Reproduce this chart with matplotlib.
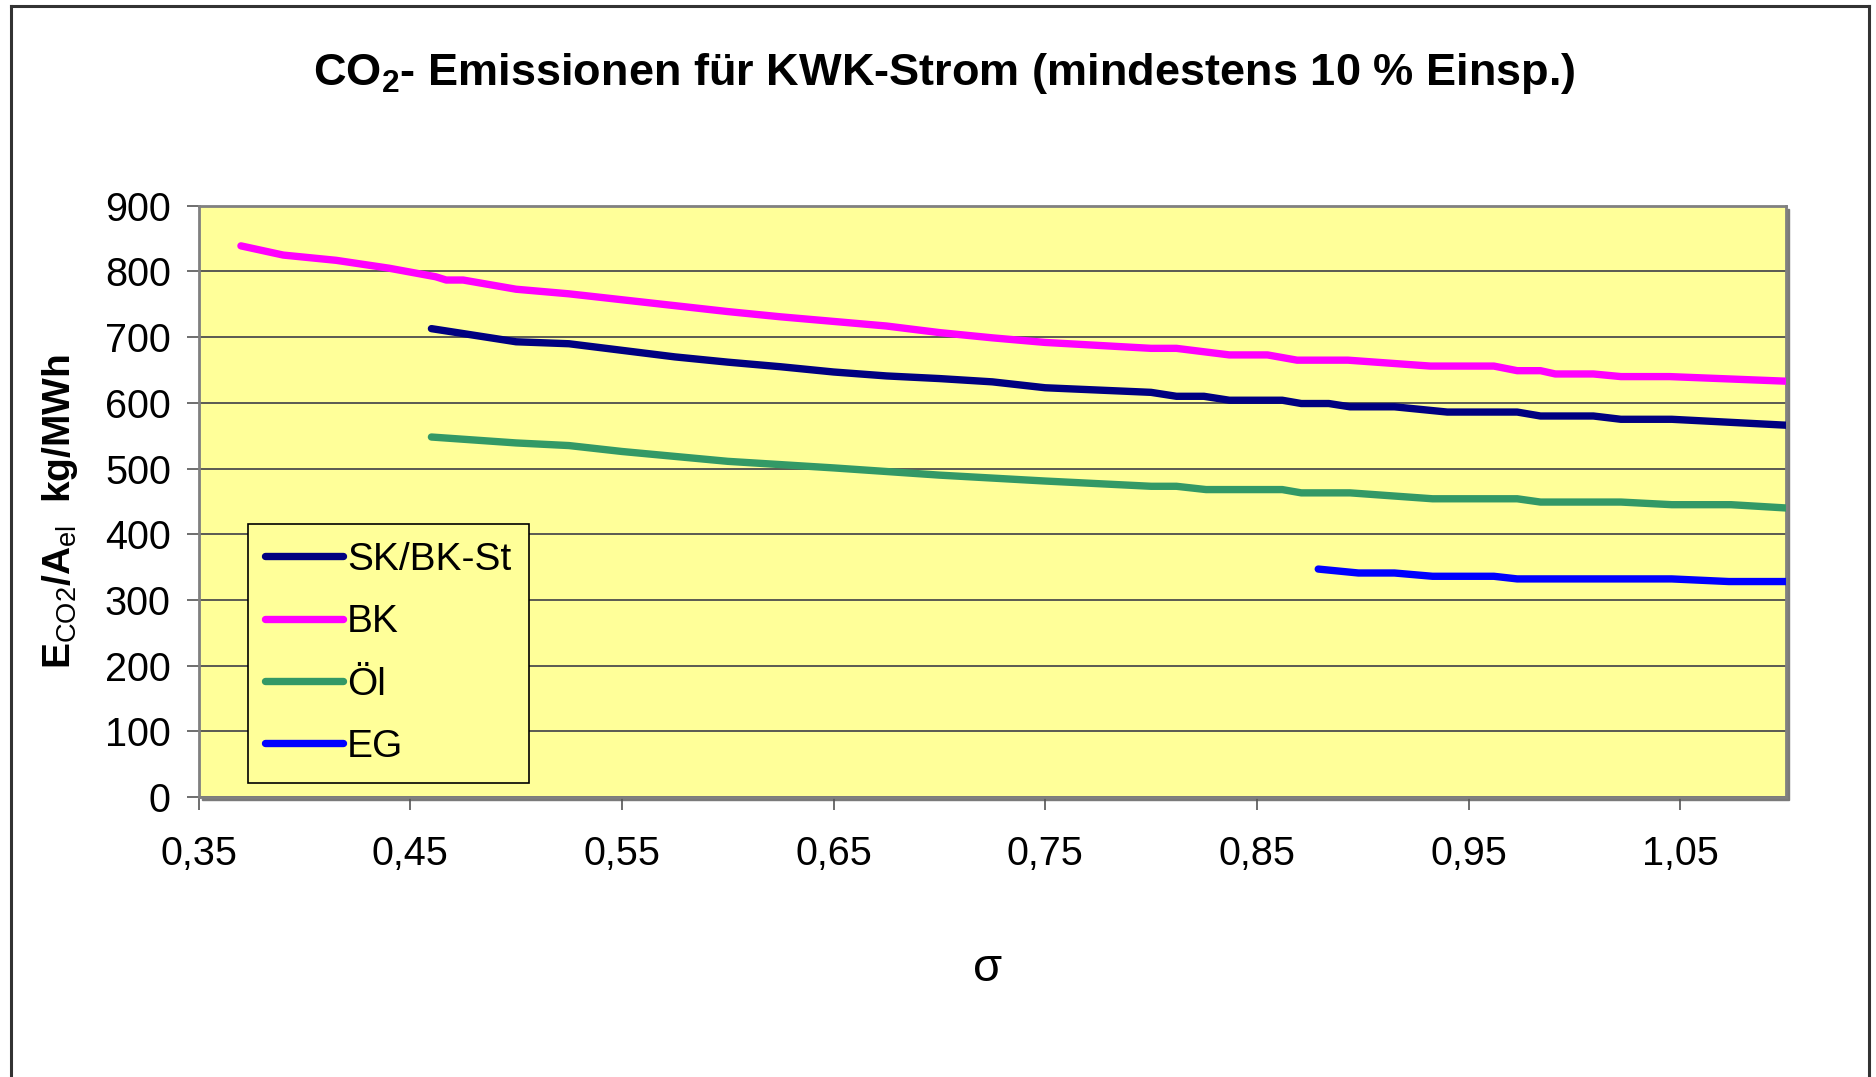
import matplotlib.pyplot as plt
import numpy as np
from matplotlib.patches import Rectangle
from matplotlib.lines import Line2D

plt.rcParams['font.family'] = ['Liberation Sans', 'DejaVu Sans']
plt.rcParams['mathtext.fontset'] = 'custom'
plt.rcParams['mathtext.rm'] = 'Liberation Sans'
plt.rcParams['mathtext.bf'] = 'Liberation Sans:bold'

# data
sk_x = [0.46, 0.50, 0.525, 0.55, 0.575, 0.60, 0.625, 0.65, 0.675, 0.70, 0.725, 0.75,
        0.80, 0.812, 0.825, 0.837, 0.862, 0.871, 0.884, 0.894, 0.915, 0.94, 0.973,
        0.984, 1.009, 1.022, 1.046, 1.10]
sk_y = [713, 693, 690, 680, 670, 662, 655, 647, 641, 637, 632, 623,
        616, 610, 610, 604, 604, 599, 599, 594, 594, 586, 586,
        580, 580, 575, 575, 566]

bk_x = [0.37, 0.39, 0.415, 0.44, 0.462, 0.467, 0.475, 0.50, 0.525, 0.55, 0.575, 0.60,
        0.625, 0.65, 0.675, 0.70, 0.725, 0.75, 0.80, 0.812, 0.837, 0.855, 0.869,
        0.893, 0.932, 0.962, 0.973, 0.984, 0.991, 1.009, 1.022, 1.045, 1.10]
bk_y = [839, 825, 817, 805, 792, 787, 787, 773, 766, 757, 748, 739,
        731, 724, 717, 707, 699, 692, 683, 683, 673, 673, 665,
        665, 656, 656, 649, 649, 644, 644, 640, 640, 633]

oel_x = [0.46, 0.50, 0.525, 0.55, 0.60, 0.65, 0.70, 0.75, 0.80, 0.812, 0.826, 0.862,
         0.871, 0.894, 0.933, 0.973, 0.984, 1.022, 1.046, 1.074, 1.10]
oel_y = [548, 539, 535, 526, 511, 501, 490, 481, 473, 473, 468, 468,
         463, 463, 454, 454, 449, 449, 445, 445, 440]

eg_x = [0.879, 0.898, 0.915, 0.933, 0.962, 0.973, 1.046, 1.073, 1.10]
eg_y = [347, 341, 341, 336, 336, 332, 332, 328, 328]

series = [
    ('SK/BK-St', sk_x, sk_y, '#000080'),
    ('BK', bk_x, bk_y, '#FF00FF'),
    ('Öl', oel_x, oel_y, '#339966'),
    ('EG', eg_x, eg_y, '#0000FF'),
]

x_ticks = [0.35, 0.45, 0.55, 0.65, 0.75, 0.85, 0.95, 1.05]
x_labels = ['0,35', '0,45', '0,55', '0,65', '0,75', '0,85', '0,95', '1,05']
y_ticks = np.arange(0, 901, 100)

W, H = 1876, 1077
fig = plt.figure(figsize=(W / 100, H / 100), dpi=100)

# outer chart border (left, top, right)
def px(x, y):
    return x / W, 1 - y / H

for (x0, y0), (x1, y1) in [((11, 1077), (11, 6)), ((11, 6), (1869, 6)), ((1869, 6), (1869, 1077))]:
    a, b = px(x0, y0)
    c, d = px(x1, y1)
    fig.add_artist(Line2D([a, c], [b, d], color='#333333', lw=2.2, transform=fig.transFigure))

l, r, t, b = 198.6, 1786, 205.8, 797
ax = fig.add_axes([l / W, 1 - b / H, (r - l) / W, (b - t) / H])
ax.set_facecolor('#FFFF99')

# drop shadow of the plot area
fig.add_artist(Rectangle(((l + 3) / W, 1 - (b + 3) / H), (r - l) / W, (b - t) / H,
                         transform=fig.transFigure, color='#7a7a7a', zorder=0))
ax.set_zorder(1)

for name, xs, ys, col in series:
    ax.plot(xs, ys, color=col, lw=5.3, solid_capstyle='round', solid_joinstyle='round',
            label=name, zorder=3)

ax.set_xlim(0.35, 1.10)
ax.set_ylim(0, 900)
ax.set_xticks(x_ticks, x_labels)
ax.set_yticks(y_ticks)
ax.yaxis.grid(True, color='#4d4d4d', lw=1.3)
ax.set_axisbelow(True)
ax.tick_params(axis='both', labelsize=28.5, length=9, width=1.2, color='#555555',
               direction='out')
ax.tick_params(axis='y', pad=11)
ax.tick_params(axis='x', pad=18)
for s in ax.spines.values():
    s.set_color('#808080')
    s.set_linewidth(2)

leg = ax.legend(loc='lower left', bbox_to_anchor=(0.031, 0.0245), borderaxespad=0,
                fontsize=28, frameon=True, fancybox=False, facecolor='#FFFF99',
                edgecolor='black', framealpha=1, handlelength=2.0, handletextpad=0.1,
                labelspacing=0.68, borderpad=0.45)
leg.get_frame().set_linewidth(1.2)
for h in leg.get_lines():
    h.set_solid_capstyle('round')

fig.text(944 / W, 1 - 74 / H, r'CO$_\mathbf{2}$- Emissionen für KWK-Strom (mindestens 10 % Einsp.)',
         ha='center', va='center', fontsize=32.5, fontweight='bold')
fig.text(60 / W, 1 - 512 / H, r'$\mathbf{E}_{\mathrm{CO2}}\mathbf{/A}_{\mathrm{el}}$  kg/MWh',
         ha='center', va='center', rotation=90, fontsize=28, fontweight='bold')
fig.text(988 / W, 1 - 969 / H, 'σ', ha='center', va='center', fontsize=34)

fig.savefig('out.png', dpi=100)
